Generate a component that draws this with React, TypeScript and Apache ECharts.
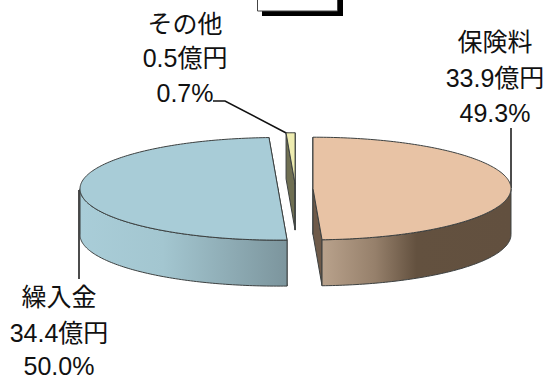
import React, { useEffect, useRef } from "react";
import * as echarts from "echarts";

// Expense breakdown shown as an exploded, tilted pie
const categories = ["保険料", "繰入金", "その他"];
const amounts = [33.9, 34.4, 0.5];
const amountLabels = ["33.9億円", "34.4億円", "0.5億円"];
const shareLabels = ["49.3%", "50.0%", "0.7%"];
const topColors = ["#e8c3a5", "#a8ccd7", "#eeecb0"];
const cutColors = ["#6e5a49", "#7d979f", "#6f6f52"];
const wallStops = [
  [[0, "#b9a28c"], [0.28, "#96806b"], [0.5, "#63513f"], [1, "#62503f"]],
  [[0, "#a9cdd8"], [0.4, "#a3c6d0"], [1, "#7c959d"]],
  [[0, "#6f6f52"], [1, "#6f6f52"]],
];
const totalBoxText = "100%";

const WIDTH = 546;
const HEIGHT = 381;
const CX = 295.5;
const CY = 188.6;
const RX = 198;
const RY = 51.3;
const DEPTH = 46;
const EXPLODE = 17.5;
const EDGE = "#3c4040";
const FONT = '"Liberation Sans", "Noto Sans CJK JP", sans-serif';
const LABEL_SIZE = 25;

const labelCenters = [
  { x: 495, y: [42, 78, 113] },
  { x: 59, y: [297, 333, 366] },
  { x: 185, y: [24, 58, 93] },
];

const total = amounts.reduce((a, b) => a + b, 0);

const rad = (deg: number) => (deg * Math.PI) / 180;

function renderSlice(params: any, api: any) {
  const i = params.dataIndex;
  const before = amounts.slice(0, i).reduce((a, b) => a + b, 0);
  const start = (before / total) * 360;
  const end = start + (api.value(0) / total) * 360;
  const mid = (start + end) / 2;
  const cx = CX + EXPLODE * Math.sin(rad(mid));
  const cy = CY - EXPLODE * (RY / RX) * Math.cos(rad(mid));
  const pt = (a: number, dy = 0): number[] => [
    cx + RX * Math.sin(rad(a)),
    cy - RY * Math.cos(rad(a)) + dy,
  ];
  // Points along the ellipse between two angles, about one per degree
  const arc = (from: number, to: number, dy = 0): number[][] => {
    const n = Math.max(2, Math.ceil(Math.abs(to - from)));
    return Array.from({ length: n + 1 }, (_, k) => pt(from + ((to - from) * k) / n, dy));
  };
  const face = (points: number[][], fill: any) => ({
    type: "polygon",
    shape: { points },
    style: { fill, stroke: EDGE, lineWidth: 1, lineJoin: "round" },
  });
  const children: any[] = [];

  // Radial cut faces go first, so the top and the rim cover any hidden one
  for (const a of [start, end]) {
    const p = pt(a);
    children.push(
      face(
        [[cx, cy], p, [p[0], p[1] + DEPTH], [cx, cy + DEPTH]],
        cutColors[i]
      )
    );
  }

  // Outer rim: only the front half of the ellipse (90° to 270°) faces the viewer
  const wallFrom = Math.max(start, 90);
  const wallTo = Math.min(end, 270);
  if (wallTo > wallFrom) {
    children.push(
      face(
        [...arc(wallFrom, wallTo), ...arc(wallTo, wallFrom, DEPTH)],
        new echarts.graphic.LinearGradient(
          0,
          0,
          1,
          0,
          wallStops[i].map(([offset, color]) => ({ offset, color })) as any
        )
      )
    );
  }

  children.push(face([[cx, cy], ...arc(start, end)], topColors[i]));
  return { type: "group", children };
}

function labelTexts() {
  const out: any[] = [];
  categories.forEach((name, i) => {
    [name, amountLabels[i], shareLabels[i]].forEach((text, row) => {
      out.push({
        type: "text",
        x: labelCenters[i].x,
        y: labelCenters[i].y[row],
        style: {
          text,
          fill: "#111",
          font: `${LABEL_SIZE}px ${FONT}`,
          align: "center",
          verticalAlign: "middle",
        },
      });
    });
  });
  return out;
}

export default function App() {
  const ref = useRef<HTMLDivElement>(null);
  useEffect(() => {
    document.body.style.margin = "0";
    const chart = echarts.init(ref.current!, undefined, { renderer: "svg" });
    chart.setOption({
      animation: false,
      backgroundColor: "#fff",
      series: [
        {
          type: "custom",
          coordinateSystem: "none",
          renderItem: renderSlice,
          data: amounts.map((v) => [v]),
          silent: true,
        },
      ],
      graphic: {
        elements: [
          // Leader lines
          { type: "polyline", shape: { points: [[79, 190], [79, 279]] }, style: { stroke: "#111", lineWidth: 1.5, fill: "none" } },
          { type: "polyline", shape: { points: [[511, 188], [511, 128]] }, style: { stroke: "#111", lineWidth: 1.5, fill: "none" } },
          { type: "polyline", shape: { points: [[213, 101], [225, 101], [290, 135]] }, style: { stroke: "#111", lineWidth: 1.5, fill: "none" } },
          // Total box, running off the top edge
          { type: "rect", shape: { x: 262, y: -6, width: 81, height: 22 }, style: { fill: "#000" } },
          { type: "rect", shape: { x: 257.5, y: -6, width: 80, height: 17 }, style: { fill: "#fff", stroke: "#444", lineWidth: 1 } },
          { type: "text", x: 285, y: 1.5, style: { text: totalBoxText, fill: "#111", font: `20px ${FONT}`, align: "center", verticalAlign: "bottom" } },
          ...labelTexts(),
        ],
      },
    });
    return () => chart.dispose();
  }, []);
  return <div ref={ref} style={{ width: WIDTH, height: HEIGHT }} />;
}
